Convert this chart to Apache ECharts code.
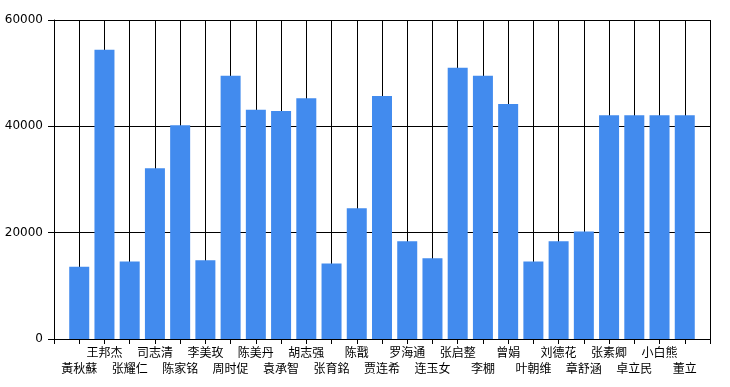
<!DOCTYPE html>
<html>
<head>
<meta charset="utf-8">
<script src="https://cdn.jsdelivr.net/npm/echarts@6/dist/echarts.min.js"></script>
<style>html,body{margin:0;padding:0;background:#fff;}#c{width:730px;height:387px;}</style>
</head>
<body>
<div id="c"></div>
<script>
var categories = ['黃秋蘇','王邦杰','张耀仁','司志清','陈家铭','李美玫','周时促','陈美丹','袁承智','胡志强','张育銘','陈戬','贾连希','罗海通','连玉女','张启整','李棚','曾娟','叶朝维','刘德花','章舒涵','张素卿','卓立民','小白熊','董立'];
var values = [13600,54400,14600,32100,40200,14800,49500,43100,42900,45300,14200,24600,45700,18400,15200,51000,49500,44200,14600,18400,20200,42100,42100,42100,42100];
var yTicks = [0,20000,40000,60000];

var cats = [''].concat(categories).concat(['']);
var vals = [null].concat(values).concat([null]);
var chart = echarts.init(document.getElementById('c'));
chart.setOption({
  animation:false,
  grid:{left:54,right:20,top:20,bottom:48,containLabel:false},
  xAxis:{
    type:'category',data:cats,boundaryGap:false,
    axisLine:{lineStyle:{color:'#000',width:1}},
    axisTick:{show:true,interval:0,length:5,lineStyle:{color:'#000'}},
    axisLabel:{interval:0,margin:5,color:'#000',fontSize:12,lineHeight:16,
      fontFamily:'"Noto Sans CJK SC", sans-serif',hideOverlap:false,
      formatter:function(v,i){return (i%2===1)?('\n'+v):v;}},
    splitLine:{show:true,interval:0,lineStyle:{color:'#000',width:1}}
  },
  yAxis:{
    type:'value',min:yTicks[0],max:yTicks[yTicks.length-1],interval:20000,
    axisLine:{show:true,lineStyle:{color:'#000'}},
    axisTick:{show:true,length:6,lineStyle:{color:'#000'}},
    axisLabel:{color:'#000',fontSize:12,margin:11,fontFamily:'"DejaVu Sans", sans-serif',
      formatter:function(v){return String(v);}},
    splitLine:{show:true,lineStyle:{color:'#000',width:1}}
  },
  series:[{type:'bar',data:vals,barWidth:20,itemStyle:{color:'#428BEE'}}]
});
</script>
</body>
</html>
